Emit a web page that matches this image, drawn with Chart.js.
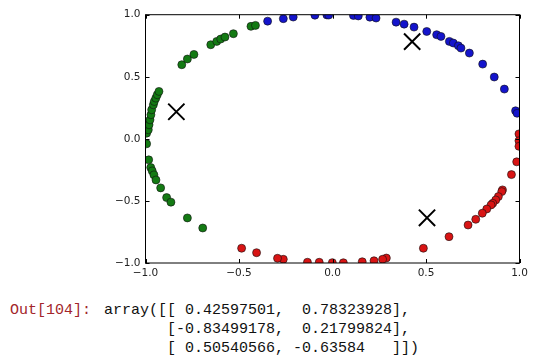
<!DOCTYPE html>
<html>
<head>
<meta charset="utf-8">
<script src="https://cdn.jsdelivr.net/npm/chart.js@4.4.1/dist/chart.umd.min.js"></script>
<style>
  body { margin: 0; background: #fff; width: 540px; height: 362px; position: relative; overflow: hidden; }
  #chart { position: absolute; left: 0; top: 0; }
  .out { position: absolute; font-family: "Liberation Mono", "DejaVu Sans Mono", monospace; font-size: 15px; line-height: 19px; white-space: pre; margin: 0; }
  #prompt { left: 10px; top: 301px; color: #a3252b; }
  #result { left: 104px; top: 301px; color: #111; }
</style>
</head>
<body>
<canvas id="chart" width="540" height="290"></canvas>
<pre class="out" id="prompt">Out[104]:</pre>
<pre class="out" id="result">array([[ 0.42597501,  0.78323928],
       [-0.83499178,  0.21799824],
       [ 0.50540566, -0.63584   ]])</pre>
<script>
const tickValues = [-1.0, -0.5, 0.0, 0.5, 1.0];

const greenX = [-0.994, -0.994, -0.985, -0.981, -0.976, -0.971, -0.967, -0.958, -0.953, -0.945, -0.937, -0.928,
  -0.806, -0.776, -0.741, -0.651, -0.619, -0.598, -0.575, -0.530, -0.436, -0.412,
  -0.983, -0.972, -0.964, -0.955, -0.944, -0.919, -0.887, -0.864, -0.776, -0.694];
const greenY = [0.046, -0.040, 0.073, 0.113, 0.153, 0.194, 0.234, 0.274, 0.301, 0.328, 0.355, 0.382,
  0.597, 0.643, 0.680, 0.758, 0.785, 0.804, 0.820, 0.847, 0.906, 0.914,
  -0.169, -0.231, -0.258, -0.290, -0.331, -0.395, -0.473, -0.510, -0.637, -0.718];

const blueX = [-0.347, -0.263, -0.210, -0.094, -0.030, -0.020, 0.112, 0.138, 0.200, 0.233, 0.340, 0.383, 0.436,
  0.504, 0.557, 0.580, 0.625, 0.646, 0.673, 0.687, 0.732, 0.803, 0.865, 0.919, 0.979, 0.987];
const blueY = [0.948, 0.968, 0.981, 0.996, 0.998, 0.997, 0.994, 0.990, 0.980, 0.973, 0.940, 0.924, 0.900,
  0.865, 0.839, 0.825, 0.785, 0.772, 0.750, 0.731, 0.691, 0.602, 0.498, 0.401, 0.226, 0.206];

const redX = [0.997, 0.997, 0.997, 0.985, 0.957, 0.909, 0.905, 0.887, 0.873, 0.857, 0.848, 0.825, 0.801, 0.766,
  0.725, 0.623, 0.486, 0.288, 0.268, 0.222, 0.159, 0.058, -0.001, -0.071, -0.134, -0.263, -0.294, -0.406, -0.486];
const redY = [0.040, -0.016, -0.060, -0.185, -0.288, -0.411, -0.425, -0.465, -0.492, -0.519, -0.532, -0.565, -0.599, -0.648,
  -0.694, -0.788, -0.881, -0.960, -0.970, -0.982, -0.990, -0.998, -0.997, -0.994, -0.994, -0.970, -0.962, -0.917, -0.881];

const centerX = [0.42597501, -0.83499178, 0.50540566];
const centerY = [0.78323928, 0.21799824, -0.63584];

function toPoints(xs, ys) {
  return xs.map((x, i) => ({ x: x, y: ys[i] }));
}

function fmtTick(v) {
  const s = Math.abs(v).toFixed(1);
  return v < 0 ? "\u2212" + s : s;
}

// axes box with inward ticks on all four sides (matplotlib classic look)
const boxPlugin = {
  id: "box",
  afterDatasetsDraw(chart) {
    const { ctx, chartArea, scales } = chart;
    const { left, right, top, bottom } = chartArea;
    ctx.save();
    ctx.strokeStyle = "#000";
    ctx.lineWidth = 1;
    ctx.beginPath();
    tickValues.forEach((v) => {
      const px = Math.round(scales.x.getPixelForValue(v)) + 0.5;
      ctx.moveTo(px, bottom); ctx.lineTo(px, bottom - 4);
      ctx.moveTo(px, top); ctx.lineTo(px, top + 4);
      const py = Math.round(scales.y.getPixelForValue(v)) + 0.5;
      ctx.moveTo(left, py); ctx.lineTo(left + 4, py);
      ctx.moveTo(right, py); ctx.lineTo(right - 4, py);
    });
    ctx.stroke();
    ctx.strokeRect(left, top, right - left, bottom - top);
    ctx.restore();
  },
};

const dotStyle = (color) => ({
  backgroundColor: color,
  borderColor: "#111",
  borderWidth: 0.6,
  pointRadius: 4,
  clip: 0,
});

new Chart(document.getElementById("chart").getContext("2d"), {
  type: "scatter",
  data: {
    datasets: [
      { label: "cluster 1", data: toPoints(greenX, greenY), ...dotStyle("#137a13") },
      { label: "cluster 2", data: toPoints(blueX, blueY), ...dotStyle("#1414cc") },
      { label: "cluster 3", data: toPoints(redX, redY), ...dotStyle("#d81414") },
      {
        label: "centers",
        data: toPoints(centerX, centerY),
        pointStyle: "crossRot",
        pointRadius: 11.5,
        borderColor: "#000",
        borderWidth: 2,
        backgroundColor: "#000",
        clip: 0,
      },
    ],
  },
  options: {
    responsive: false,
    animation: false,
    layout: { padding: { left: 105.5, right: 20.5, top: 14.7, bottom: 5 } },
    plugins: { legend: { display: false }, tooltip: { enabled: false } },
    scales: {
      x: {
        type: "linear",
        min: -1,
        max: 1,
        afterBuildTicks: (s) => { s.ticks = tickValues.map((v) => ({ value: v })); },
        afterFit: (s) => { s.height = 22; },
        grid: { display: false, drawTicks: false },
        border: { display: false },
        ticks: { callback: fmtTick, padding: 4, maxRotation: 0, color: "#222", font: { family: "DejaVu Sans", size: 10.5 } },
      },
      y: {
        type: "linear",
        min: -1,
        max: 1,
        afterBuildTicks: (s) => { s.ticks = tickValues.map((v) => ({ value: v })); },
        afterFit: (s) => { s.width = 40; },
        grid: { display: false, drawTicks: false },
        border: { display: false },
        ticks: { callback: fmtTick, padding: 5, color: "#222", font: { family: "DejaVu Sans", size: 10.5 } },
      },
    },
  },
  plugins: [boxPlugin],
});
</script>
</body>
</html>
